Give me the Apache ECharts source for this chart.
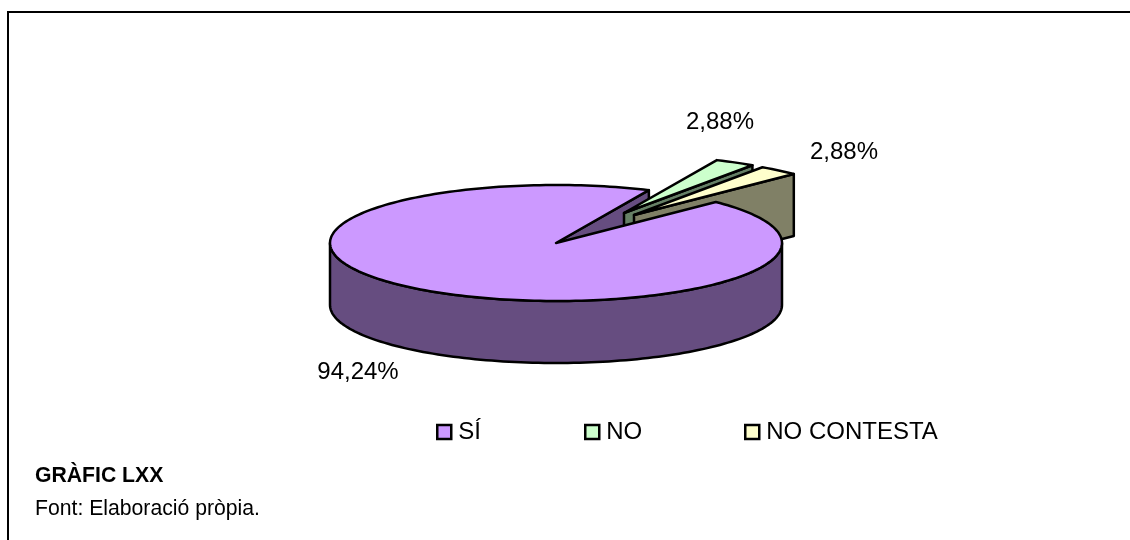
<!DOCTYPE html>
<html>
<head>
<meta charset="utf-8">
<style>html,body{margin:0;padding:0;background:#fff}#c{width:1130px;height:540px}</style>
<script src="https://cdn.jsdelivr.net/npm/echarts@6/dist/echarts.min.js"></script>
</head>
<body>
<div id="c"></div>
<script>
const categories = ['SÍ', 'NO', 'NO CONTESTA'];
const shares = [94.24, 2.88, 2.88];
const topColors = ['#CC99FF', '#CCFFCC', '#FFFFCC'];
const wallColors = ['#664D80', '#668066', '#808066'];

const cx = 556, cy = 243, rx = 226, ry = 58, depth = 62;
const explodeOffsets = [[0, 0], [68, -30], [78, -28]];
const firstAngle = 45;            // degrees, ellipse parameter, slices run clockwise
const FONT = '"Liberation Sans", Arial, sans-serif';
const LINE = { stroke: '#000', lineWidth: 2.5, lineJoin: 'round' };

const spans = [];
let running = firstAngle;
shares.forEach(v => {
  const sweep = v / 100 * 360;
  spans.push({ start: running, end: running - sweep });
  running -= sweep;
});
const rad = d => d * Math.PI / 180;
function centre(i) {
  return [cx + explodeOffsets[i][0], cy + explodeOffsets[i][1]];
}
function rim(c, a, dy) {
  return [c[0] + rx * Math.cos(rad(a)), c[1] - ry * Math.sin(rad(a)) + (dy || 0)];
}
function arcPoints(c, from, to, dy) {
  const n = Math.max(2, Math.ceil(Math.abs(to - from) / 1.5));
  const pts = [];
  for (let k = 0; k <= n; k++) pts.push(rim(c, from + (to - from) * k / n, dy));
  return pts;
}
function poly(points, fill) {
  return { type: 'polygon', shape: { points }, style: Object.assign({ fill }, LINE) };
}
function radialWall(c, a, fill) {
  const p = rim(c, a);
  return poly([c, p, [p[0], p[1] + depth], [c[0], c[1] + depth]], fill);
}
function pct(v) { return v.toFixed(2).replace('.', ',') + '%'; }
function label(v, x, y) {
  return { type: 'text', style: { text: pct(v), x, y, fill: '#000', font: '24px ' + FONT, textAlign: 'center', textVerticalAlign: 'middle' } };
}
const labelOffsets = [[-198, 129], [164, -121], [288, -91]];

function renderSlice(params) {
  const i = params.seriesIndex;
  const c = centre(i), s = spans[i], kids = [];
  if (i === 0) {
    kids.push(poly(arcPoints(c, 180, 360, depth).concat(arcPoints(c, 360, 180, 0)), wallColors[0]));
  } else {
    kids.push(radialWall(c, s.end, wallColors[i]));
  }
  kids.push(poly([c].concat(arcPoints(c, s.start, s.end)), topColors[i]));
  kids.push(label(shares[i], cx + labelOffsets[i][0], cy + labelOffsets[i][1]));
  return { type: 'group', children: kids };
}
function renderBackWall() {
  return radialWall(centre(0), spans[0].end, wallColors[0]);
}

const series = categories.map((name, i) => ({
  type: 'custom', name,
  coordinateSystem: 'none',
  data: [shares[i]],
  itemStyle: { color: topColors[i], borderColor: '#000', borderWidth: 2 },
  z: i === 0 ? 6 : 3 + i,
  silent: true, animation: false,
  renderItem: renderSlice
}));
series.push({
  type: 'custom', name: 'SÍ (tall)', coordinateSystem: 'none', data: [shares[0]],
  z: 2, silent: true, animation: false, renderItem: renderBackWall
});

const legendLefts = [436, 584, 744];
const chart = echarts.init(document.getElementById('c'), null, { renderer: 'canvas' });
chart.setOption({
  animation: false,
  backgroundColor: '#fff',
  legend: categories.map((name, i) => ({
    data: [{ name, icon: 'rect' }],
    left: legendLefts[i], top: 420, padding: 0,
    itemWidth: 14, itemHeight: 14, itemGap: 0,
    selectedMode: false,
    textStyle: { fontFamily: FONT, fontSize: 24, color: '#000', padding: [0, 0, 0, 2] },
    itemStyle: { borderColor: '#000', borderWidth: 2.5 }
  })),
  graphic: [
    { type: 'rect', z: 0, shape: { x: 8, y: 12, width: 1200, height: 600 }, style: { fill: '#fff', stroke: '#000', lineWidth: 2 } },
    { type: 'text', z: 10, style: { text: 'GRÀFIC LXX', x: 35, y: 476, fill: '#000', font: 'bold 21.2px ' + FONT, textVerticalAlign: 'middle' } },
    { type: 'text', z: 10, style: { text: 'Font: Elaboració pròpia.', x: 35, y: 509, fill: '#000', font: '21.2px ' + FONT, textVerticalAlign: 'middle' } }
  ],
  series
});
</script>
</body>
</html>
